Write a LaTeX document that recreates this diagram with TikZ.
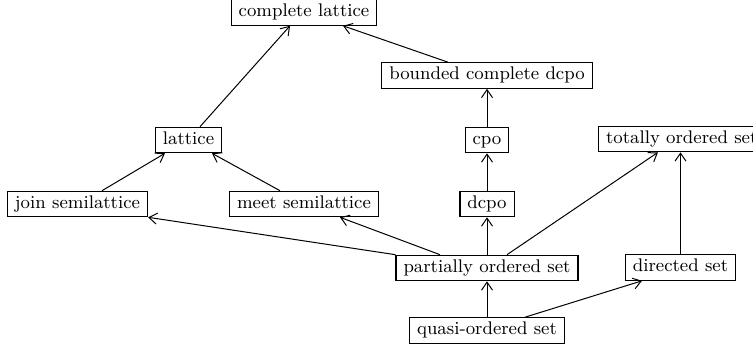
\documentclass[tikz,border=0pt]{standalone}
\usetikzlibrary{arrows.meta}
\begin{document}
\begin{tikzpicture}[x=0.5pt,y=-0.5pt,
  ordbox/.style={draw, line width=0.6pt, font=\fontsize{9.15pt}{11pt}\selectfont,
    inner xsep=3.75pt, inner ysep=2.2pt, text height=6.4pt, text depth=1.9pt},
  implies/.style={line width=0.5pt, -{Straight Barb[length=4pt,width=5.5pt]}}]
\useasboundingbox (0,0) rectangle (753,351);

% order structures
\node[ordbox] (cl)    at (304,12.5)  {complete lattice};
\node[ordbox] (bcd)   at (487,75.5)  {bounded complete dcpo};
\node[ordbox] (lat)   at (188.5,140) {lattice};
\node[ordbox] (cpo)   at (487,140)   {cpo};
\node[ordbox, anchor=west] (tos) at (598,139) {totally ordered set};
\node[ordbox] (join)  at (77.5,204)  {join semilattice};
\node[ordbox] (meet)  at (304,204)   {meet semilattice};
\node[ordbox] (dcpo)  at (487,204)   {dcpo};
\node[ordbox] (poset) at (487,268)   {partially ordered set};
\node[ordbox] (dir)   at (680.5,267.5) {directed set};
\node[ordbox] (quasi) at (487,330.5) {quasi-ordered set};

% specialisations
\draw[implies] ([xshift=5.75pt]lat.north) -- ([xshift=-7pt]cl.south);
\draw[implies] ([xshift=-19.5pt]bcd.north) -- ([xshift=19.5pt]cl.south);
\draw[implies] (cpo.north) -- (cpo.north |- bcd.south);
\draw[implies] (dcpo.north) -- (cpo.south);
\draw[implies] ([xshift=12.25pt]join.north) -- ([xshift=-11.75pt]lat.south);
\draw[implies] ([xshift=-12pt]meet.north) -- ([xshift=11.75pt]lat.south);
\draw[implies] (poset.north west) -- (join.south east);
\draw[implies] ([xshift=-23.5pt]poset.north) -- ([xshift=18pt]meet.south);
\draw[implies] (poset.north) -- (dcpo.south);
\draw[implies] ([xshift=10pt]poset.north) -- (658,153.5 |- tos.south);
\draw[implies] (dir.north) -- (dir.north |- tos.south);
\draw[implies] (quasi.north) -- (poset.south);
\draw[implies] ([xshift=19pt]quasi.north) -- ([xshift=-19.25pt]dir.south);
\end{tikzpicture}
\end{document}
